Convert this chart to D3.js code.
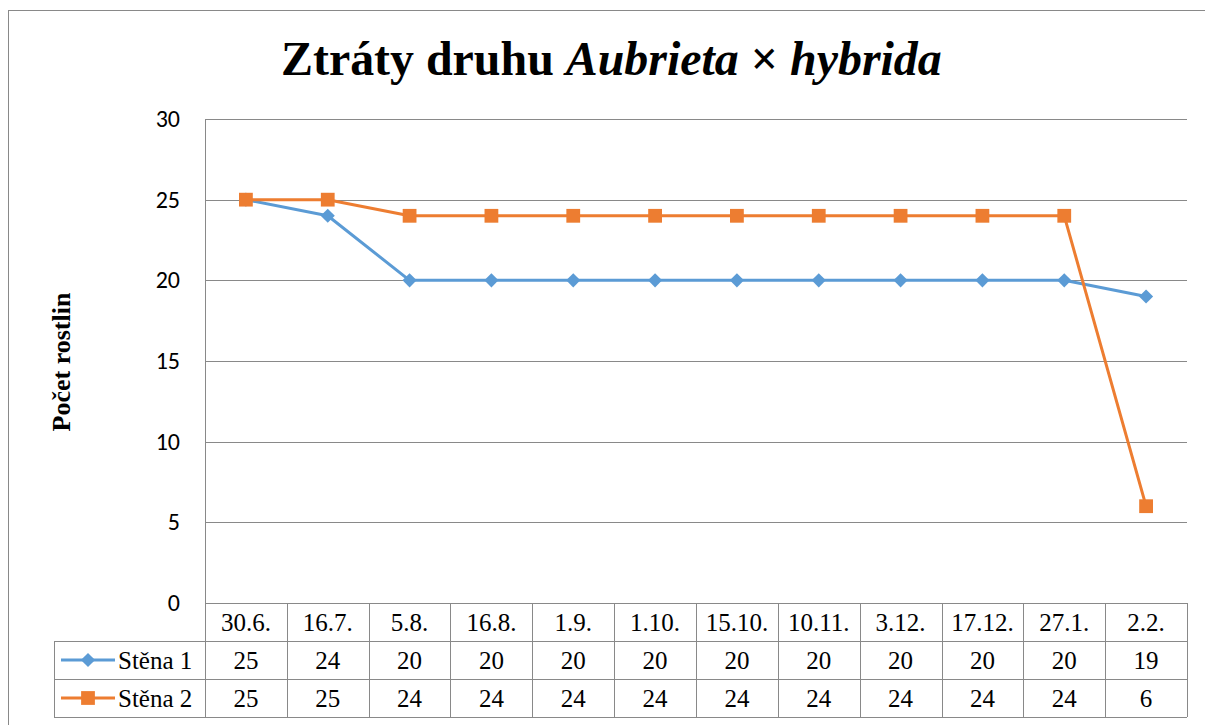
<!DOCTYPE html>
<html>
<head>
<meta charset="utf-8">
<script src="https://cdn.jsdelivr.net/npm/d3@7/dist/d3.min.js"></script>
<style>
  body { margin: 0; background: #fff; }
  svg { display: block; }
</style>
</head>
<body>
<div id="app"></div>
<script>
const categories = ["30.6.", "16.7.", "5.8.", "16.8.", "1.9.", "1.10.", "15.10.", "10.11.", "3.12.", "17.12.", "27.1.", "2.2."];
const stena1 = [25, 24, 20, 20, 20, 20, 20, 20, 20, 20, 20, 19];
const stena2 = [25, 25, 24, 24, 24, 24, 24, 24, 24, 24, 24, 6];
const yTicks = [0, 5, 10, 15, 20, 25, 30];

const series = [
  { name: "Stěna 1", values: stena1, color: "#5B9BD5", marker: "diamond" },
  { name: "Stěna 2", values: stena2, color: "#ED7D31", marker: "square" }
];

const width = 1205;
const height = 725;
const marginLeft = 205;
const marginRight = 18;
const plotTop = 119;
const plotBottom = 603;
const rowH = 38;
const legendLeft = 54;
const grid = "#898989";
const serif = "'Liberation Serif', 'Times New Roman', serif";

const svg = d3.select("#app").append("svg").attr("width", width).attr("height", height);

// outer chart border
svg.append("rect")
  .attr("x", 8.5).attr("y", 10.5)
  .attr("width", width).attr("height", height)
  .attr("fill", "none").attr("stroke", grid);

const x = d3.scaleBand().domain(categories).range([marginLeft, width - marginRight]);
const y = d3.scaleLinear().domain([0, 30]).range([plotBottom, plotTop]);

// gridlines + y labels
svg.append("g")
  .selectAll("line")
  .data(yTicks)
  .join("line")
  .attr("x1", marginLeft).attr("x2", width - marginRight)
  .attr("y1", (d) => Math.round(y(d)) + 0.5).attr("y2", (d) => Math.round(y(d)) + 0.5)
  .attr("stroke", grid).attr("stroke-width", 1);

svg.append("g")
  .selectAll("text")
  .data(yTicks)
  .join("text")
  .attr("x", 180)
  .attr("y", (d) => y(d) + 8)
  .attr("text-anchor", "end")
  .attr("font-family", "Carlito, Lato, sans-serif")
  .attr("font-size", 24)
  .attr("fill", "#000")
  .text((d) => d);

svg.append("line")
  .attr("x1", marginLeft + 0.5).attr("x2", marginLeft + 0.5)
  .attr("y1", plotTop).attr("y2", plotBottom + rowH * 3)
  .attr("stroke", grid);

// y axis title
svg.append("text")
  .attr("transform", "translate(70,362) rotate(-90)")
  .attr("text-anchor", "middle")
  .attr("font-family", serif)
  .attr("font-weight", "bold")
  .attr("font-size", 26)
  .text("Počet rostlin");

// lines and markers
const cx = (i) => x(categories[i]) + x.bandwidth() / 2;
const line = d3.line()
  .x((d, i) => cx(i))
  .y((d) => y(d));

const markerPath = (m) => m === "diamond"
  ? d3.symbol().type(d3.symbolSquare).size(100)()
  : d3.symbol().type(d3.symbolSquare).size(190)();
const markerRot = (m) => (m === "diamond" ? " rotate(45)" : "");

series.forEach((s) => {
  svg.append("path")
    .datum(s.values)
    .attr("d", line)
    .attr("fill", "none")
    .attr("stroke", s.color)
    .attr("stroke-width", 3)
    .attr("stroke-linejoin", "round");

  svg.append("g")
    .selectAll("path")
    .data(s.values)
    .join("path")
    .attr("d", markerPath(s.marker))
    .attr("transform", (d, i) => `translate(${cx(i)},${y(d)})` + markerRot(s.marker))
    .attr("fill", s.color);
});

// data table
const table = svg.append("g");

[1, 2, 3].forEach((r) => {
  table.append("line")
    .attr("x1", legendLeft)
    .attr("x2", width - marginRight)
    .attr("y1", plotBottom + rowH * r + 0.5)
    .attr("y2", plotBottom + rowH * r + 0.5)
    .attr("stroke", grid);
});
table.append("line")
  .attr("x1", legendLeft + 0.5).attr("x2", legendLeft + 0.5)
  .attr("y1", plotBottom + rowH).attr("y2", plotBottom + rowH * 3)
  .attr("stroke", grid);

categories.forEach((c) => {
  const right = Math.round(x(c) + x.bandwidth()) + 0.5;
  table.append("line")
    .attr("x1", right).attr("x2", right)
    .attr("y1", plotBottom).attr("y2", plotBottom + rowH * 3)
    .attr("stroke", grid);
});

table.append("g")
  .selectAll("text")
  .data(categories)
  .join("text")
  .attr("x", (d) => x(d) + x.bandwidth() / 2)
  .attr("y", plotBottom + 28)
  .attr("text-anchor", "middle")
  .attr("font-family", serif)
  .attr("font-size", 25)
  .text((d) => d);

series.forEach((s, r) => {
  const rowY = plotBottom + rowH * (r + 1);
  table.append("g")
    .selectAll("text")
    .data(s.values)
    .join("text")
    .attr("x", (d, i) => cx(i))
    .attr("y", rowY + 28)
    .attr("text-anchor", "middle")
    .attr("font-family", serif)
    .attr("font-size", 25)
    .text((d) => d);

  // legend key
  const cy = rowY + rowH / 2;
  table.append("line")
    .attr("x1", 61).attr("x2", 115)
    .attr("y1", cy).attr("y2", cy)
    .attr("stroke", s.color).attr("stroke-width", 3);
  table.append("path")
    .attr("d", markerPath(s.marker))
    .attr("transform", `translate(88,${cy})` + markerRot(s.marker))
    .attr("fill", s.color);
  table.append("text")
    .attr("x", 118)
    .attr("y", rowY + 28)
    .attr("font-family", serif)
    .attr("font-size", 25)
    .text(s.name);
});

// title
const title = svg.append("text")
  .attr("font-family", serif)
  .attr("font-weight", "bold")
  .attr("font-size", 48);
title.append("tspan").text("Ztráty druhu ");
title.append("tspan").attr("font-style", "italic").text("Aubrieta");
title.append("tspan").text(" × ");
title.append("tspan").attr("font-style", "italic").text("hybrida");
const w = title.node().getComputedTextLength();
title.attr("transform", `translate(281,75) scale(${661 / w},1)`);
</script>
</body>
</html>
